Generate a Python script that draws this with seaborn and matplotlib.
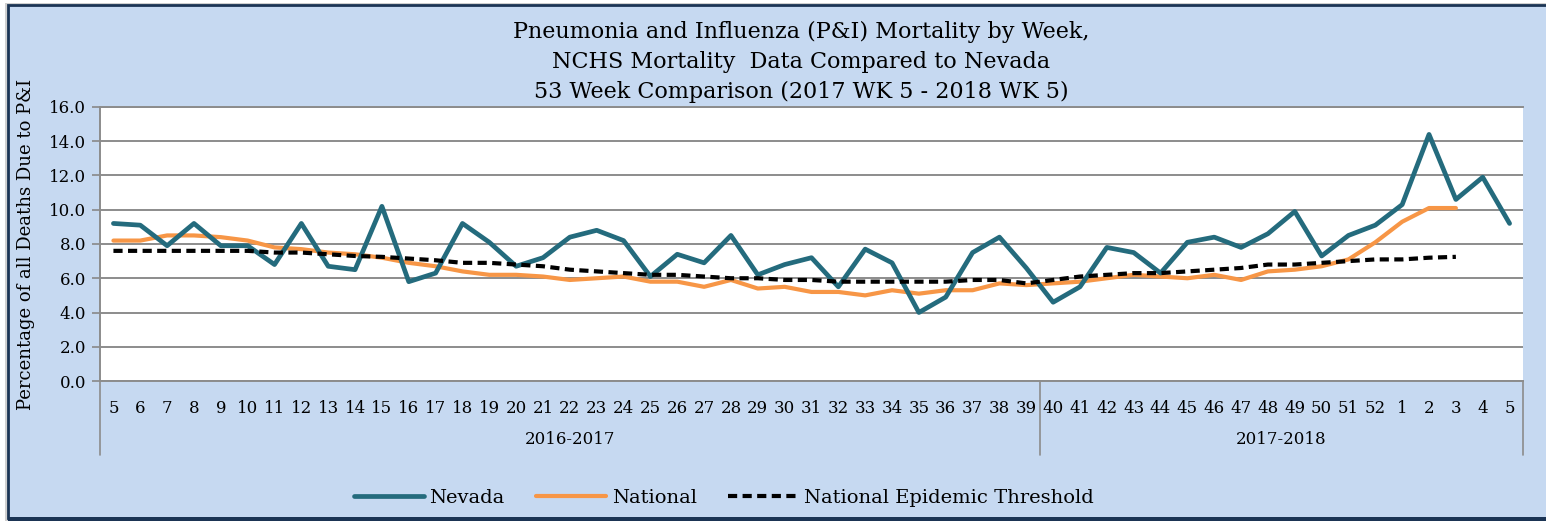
import numpy as np
import pandas as pd
import matplotlib
matplotlib.use("Agg")
import matplotlib.pyplot as plt
import matplotlib.transforms as mtransforms
from matplotlib.patches import Rectangle
import seaborn as sns

# week labels: 2017 wk 5 .. 2018 wk 5
weeks = [str(w) for w in range(5, 53)] + ["1", "2", "3", "4", "5"]
seasons = ["2016-2017", "2017-2018"]
season_split = 35  # weeks 5-39 belong to 2016-2017

nevada = [9.2, 9.1, 7.9, 9.2, 7.9, 7.9, 6.8, 9.2, 6.7, 6.5,
          10.2, 5.8, 6.3, 9.2, 8.1, 6.7, 7.2, 8.4, 8.8, 8.2,
          6.1, 7.4, 6.9, 8.5, 6.2, 6.8, 7.2, 5.5, 7.7, 6.9,
          4.0, 4.9, 7.5, 8.4, 6.6, 4.6, 5.5, 7.8, 7.5, 6.3,
          8.1, 8.4, 7.8, 8.6, 9.9, 7.3, 8.5, 9.1, 10.3, 14.4,
          10.6, 11.9, 9.2]
national = [8.2, 8.2, 8.5, 8.5, 8.4, 8.2, 7.8, 7.7, 7.5, 7.4,
            7.2, 6.9, 6.7, 6.4, 6.2, 6.2, 6.1, 5.9, 6.0, 6.1,
            5.8, 5.8, 5.5, 5.9, 5.4, 5.5, 5.2, 5.2, 5.0, 5.3,
            5.1, 5.3, 5.3, 5.7, 5.6, 5.7, 5.8, 6.0, 6.2, 6.1,
            6.0, 6.2, 5.9, 6.4, 6.5, 6.7, 7.1, 8.1, 9.3, 10.1,
            10.1]
threshold = [7.6, 7.6, 7.6, 7.6, 7.6, 7.6, 7.5, 7.5, 7.4, 7.3,
             7.25, 7.15, 7.05, 6.9, 6.9, 6.8, 6.7, 6.5, 6.4, 6.3,
             6.2, 6.2, 6.1, 6.0, 6.0, 5.9, 5.9, 5.8, 5.8, 5.8,
             5.8, 5.8, 5.9, 5.9, 5.7, 5.9, 6.1, 6.2, 6.3, 6.3,
             6.4, 6.5, 6.6, 6.8, 6.8, 6.9, 7.0, 7.1, 7.1, 7.2,
             7.25]

bg = "#C6D9F1"
navy = "#1B3454"
teal = "#246B7D"
orange = "#F79646"

sns.set_style("white")
plt.rcParams["font.family"] = ["DejaVu Serif"]
plt.rcParams["text.color"] = "black"
plt.rcParams["axes.labelcolor"] = "black"

fig = plt.figure(figsize=(15.46, 5.21), dpi=100, facecolor="white")

# chart area background with dark frame (open on the right, like the source)
W, H = 1546, 521
fig.patches.append(Rectangle((5 / W, 0), 1, 1 - 3 / H, transform=fig.transFigure,
                             facecolor="#D0D0D0", edgecolor="none", zorder=-3))
fig.patches.append(Rectangle((8 / W, 3 / H), 1, 1 - 8 / H,
                             transform=fig.transFigure, facecolor=bg,
                             edgecolor=navy, lw=2.0, zorder=-2))
fig.patches.append(Rectangle((8 / W, 0), 1, 4 / H, transform=fig.transFigure,
                             facecolor=navy, edgecolor="none", zorder=-1))

ax = fig.add_axes([100 / W, 1 - 381 / H, 1423 / W, 274 / H])
ax.set_facecolor("white")

nev_df = pd.DataFrame({"idx": range(len(nevada)), "val": nevada})
nat_df = pd.DataFrame({"idx": range(len(national)), "val": national})
thr_df = pd.DataFrame({"idx": range(len(threshold)), "val": threshold})

sns.lineplot(data=nev_df, x="idx", y="val", ax=ax, color=teal, lw=3.4,
             label="Nevada", zorder=3)
sns.lineplot(data=nat_df, x="idx", y="val", ax=ax, color=orange, lw=3.0,
             label="National", zorder=2)
sns.lineplot(data=thr_df, x="idx", y="val", ax=ax, color="black", lw=3.0,
             linestyle=(0, (2.2, 1.3)), label="National Epidemic Threshold",
             zorder=4)

ax.set_xlim(-0.5, len(weeks) - 0.5)
ax.set_ylim(0, 16)
ax.set_yticks(np.arange(0, 16.1, 2))
ax.set_yticklabels([f"{v:.1f}" for v in np.arange(0, 16.1, 2)], fontsize=12)
ax.set_xticks(range(len(weeks)))
ax.set_xticklabels(weeks, fontsize=12)
ax.tick_params(axis="x", length=0, pad=14, labelcolor="black")
ax.tick_params(axis="y", length=6, width=1.2, color="#888888", direction="out",
               left=True, pad=4, labelcolor="black")
ax.grid(axis="y", color="#8C8C8C", lw=1.4)
ax.set_axisbelow(True)
ax.spines["right"].set_visible(False)
for side in ["top", "left", "bottom"]:
    ax.spines[side].set_color("#8C8C8C")
    ax.spines[side].set_linewidth(1.4)

ax.set_xlabel("")
ax.set_ylabel("Percentage of all Deaths Due to P&I", fontsize=13, labelpad=10)

# multi-level category axis
trans = mtransforms.blended_transform_factory(ax.transData, ax.transAxes)
for xs in [-0.5, season_split - 0.5, len(weeks) - 0.5]:
    ax.plot([xs, xs], [0, -0.27], transform=trans, color="#8C8C8C", lw=1.2,
            clip_on=False)
ax.text((season_split - 1) / 2, -0.215, seasons[0], transform=trans,
        ha="center", va="center", fontsize=12)
ax.text((season_split + len(weeks) - 1) / 2, -0.215, seasons[1],
        transform=trans, ha="center", va="center", fontsize=12)

ax.legend_.remove()
handles, labels = ax.get_legend_handles_labels()
fig.legend(handles, labels, loc="center", bbox_to_anchor=(0.468, 0.045),
           ncol=3, frameon=False, fontsize=14, handlelength=3.6,
           columnspacing=1.6, handletextpad=0.3)

fig.text(0.518, 0.881,
         "Pneumonia and Influenza (P&I) Mortality by Week,\n"
         "NCHS Mortality  Data Compared to Nevada\n"
         "53 Week Comparison (2017 WK 5 - 2018 WK 5)",
         ha="center", va="center", fontsize=16, linespacing=1.45)

fig.savefig("out.png", dpi=100, facecolor="white")
